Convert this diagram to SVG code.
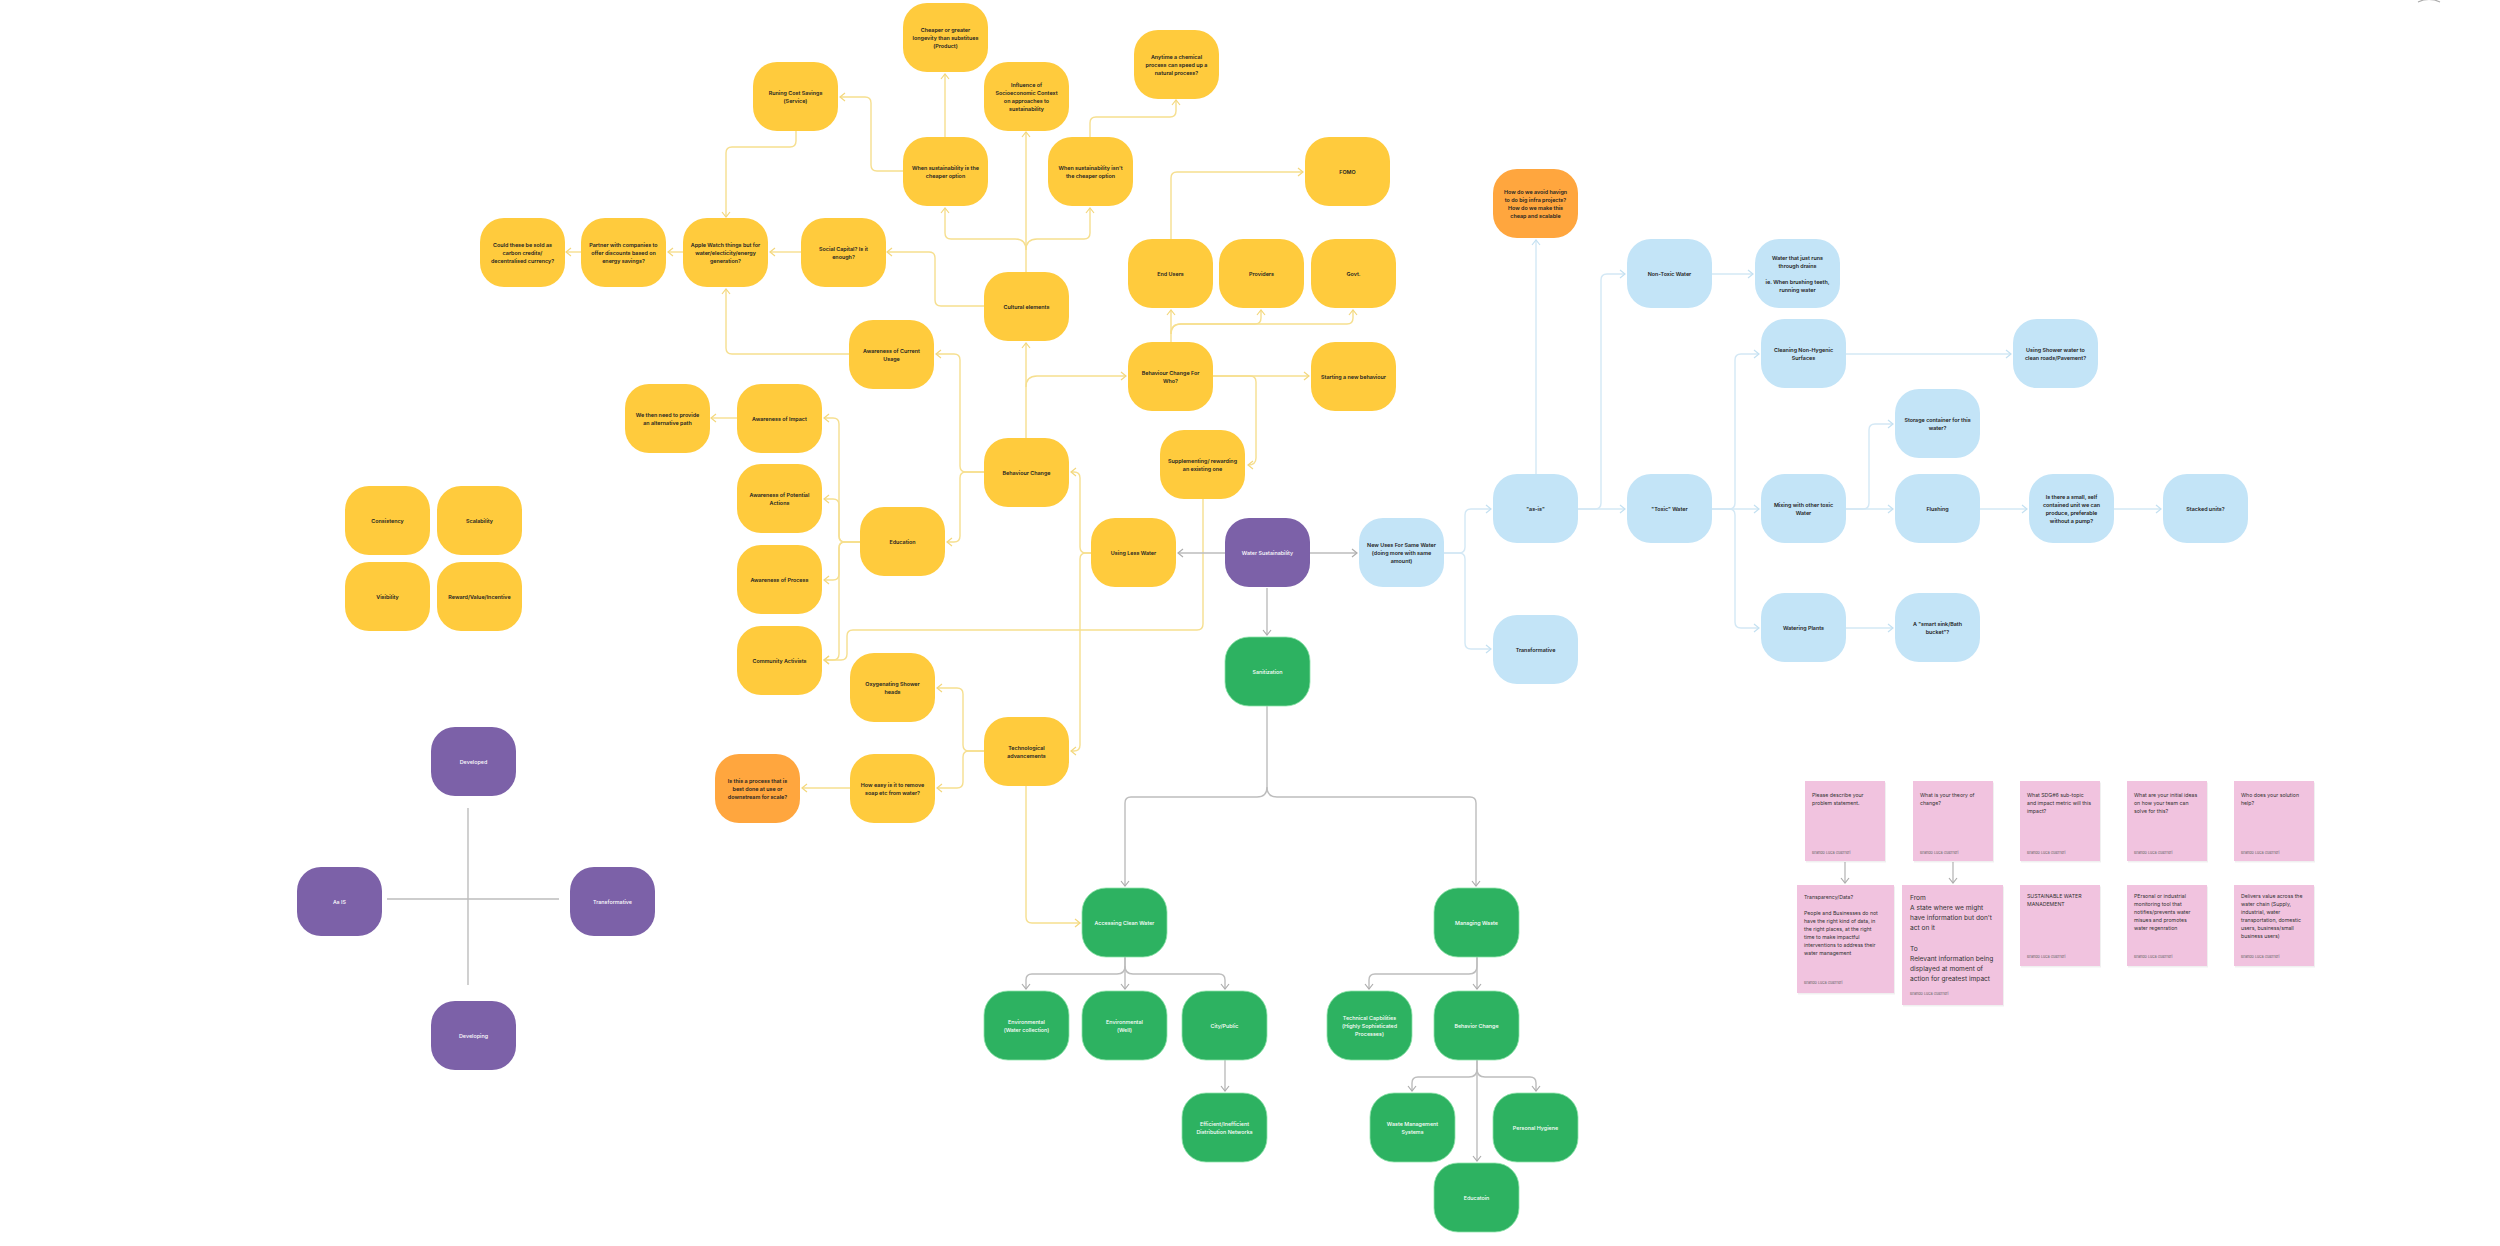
<svg xmlns="http://www.w3.org/2000/svg" width="2500" height="1246" viewBox="0 0 2500 1246">
<style>
.ny{fill:#FFCB3D}
.nb{fill:#C3E4F7}
.ng{fill:#2DB261;stroke:#8EE3A9;stroke-width:0.8}
.np{fill:#7C61A8}
.no{fill:#FFA63E}
.pk{fill:#F1C3DF}
.sh{fill:#000;opacity:0.06}
.t{font-family:Inter,'Noto Sans','Liberation Sans',sans-serif;font-size:5.4px;font-weight:600;fill:#222;text-anchor:middle}
.tw{fill:#fff;font-weight:500}
.pt{font-family:Inter,'Noto Sans','Liberation Sans',sans-serif;font-size:5.2px;font-weight:400;fill:#333}
.pb{font-size:6.6px}
.au{font-family:Inter,'Noto Sans','Liberation Sans',sans-serif;font-size:3.8px;fill:#666}
.cy{fill:none;stroke:#F6DF8F;stroke-width:1.4}
.cg{fill:none;stroke:#BDBDBD;stroke-width:1.4}
.cb{fill:none;stroke:#D3E8F5;stroke-width:1.4}
</style>
<defs>
<marker id="ay" markerWidth="8" markerHeight="10" refX="6" refY="5" orient="auto" markerUnits="userSpaceOnUse"><path d="M1,1 L6,5 L1,9" fill="none" stroke="#F3D77C" stroke-width="1.2"/></marker>
<marker id="ag" markerWidth="8" markerHeight="10" refX="6" refY="5" orient="auto" markerUnits="userSpaceOnUse"><path d="M1,1 L6,5 L1,9" fill="none" stroke="#ADADAD" stroke-width="1.2"/></marker>
<marker id="ab" markerWidth="8" markerHeight="10" refX="6" refY="5" orient="auto" markerUnits="userSpaceOnUse"><path d="M1,1 L6,5 L1,9" fill="none" stroke="#C3E0F1" stroke-width="1.2"/></marker>
</defs>
<rect width="2500" height="1246" fill="#fff"/>
<path d="M2418,2 Q2429,-3 2440,2" fill="none" stroke="#AAA" stroke-width="1.2"/>

<g id="connectors">
<g marker-end="url(#ay)" class="yellow">
<path class="cy" d="M1026,272 V132"/>
<path class="cy" d="M1026,250 Q1026,239 1015,239 H951 Q945,239 945,233 V208"/>
<path class="cy" d="M1026,250 Q1026,239 1037,239 H1084 Q1090,239 1090,233 V208"/>
<path class="cy" d="M984,306 H941 Q935,306 935,300 V258 Q935,252 929,252 H887"/>
<path class="cy" d="M945,137 V74"/>
<path class="cy" d="M903,171 H877 Q871,171 871,165 V103 Q871,97 865,97 H840"/>
<path class="cy" d="M1090,137 V123 Q1090,117 1096,117 H1170 Q1176,117 1176,111 V100"/>
<path class="cy" d="M796,131 V141 Q796,147 790,147 H732 Q726,147 726,153 V217"/>
<path class="cy" d="M801,252 H770"/>
<path class="cy" d="M683,252 H668"/>
<path class="cy" d="M581,252 H566"/>
<path class="cy" d="M849,354 H732 Q726,354 726,348 V289"/>
<path class="cy" d="M984,472 H966 Q960,472 960,466 V360 Q960,354 954,354 H936"/>
<path class="cy" d="M984,472 H966 Q960,472 960,478 V536 Q960,542 954,542 H947"/>
<path class="cy" d="M1026,438 V343"/>
<path class="cy" d="M1026,387 Q1026,376 1037,376 H1126"/>
<path class="cy" d="M860,542 H845 Q839,542 839,536 V424 Q839,418 833,418 H824"/>
<path class="cy" d="M860,542 H845 Q839,542 839,536 V505 Q839,499 833,499 H824"/>
<path class="cy" d="M860,542 H845 Q839,542 839,548 V574 Q839,580 833,580 H824"/>
<path class="cy" d="M860,542 H845 Q839,542 839,548 V654 Q839,660 833,660 H824"/>
<path class="cy" d="M737,418 H711"/>
<path class="cy" d="M1203,499 V624 Q1203,630 1197,630 H853 Q847,630 847,636 V654 Q847,660 841,660 H824"/>
<path class="cy" d="M1171,342 V310"/>
<path class="cy" d="M1171,334 Q1171,324 1181,324 H1255 Q1261,324 1261,318 V310"/>
<path class="cy" d="M1171,334 Q1171,324 1181,324 H1347 Q1353,324 1353,318 V310"/>
<path class="cy" d="M1171,239 V178 Q1171,172 1177,172 H1303"/>
<path class="cy" d="M1213,376 H1309"/>
<path class="cy" d="M1213,376 H1250 Q1256,376 1256,382 V458 Q1256,465 1248,465"/>
<path class="cy" d="M1091,553 H1086 Q1080,553 1080,547 V478 Q1080,472 1074,472 H1071"/>
<path class="cy" d="M1091,553 H1086 Q1080,553 1080,559 V745 Q1080,751 1074,751 H1071"/>
<path class="cy" d="M984,751 H969 Q963,751 963,745 V694 Q963,688 957,688 H937"/>
<path class="cy" d="M984,751 H969 Q963,751 963,757 V782 Q963,788 957,788 H937"/>
<path class="cy" d="M850,788 H802"/>
<path class="cy" d="M1026,786 V917 Q1026,923 1032,923 H1080"/>
</g>
<g marker-end="url(#ag)" class="gray">
<path class="cg" d="M1225,553 H1178"/>
<path class="cg" d="M1310,553 H1357"/>
<path class="cg" d="M1267,588 V635"/>
<path class="cg" d="M1267,706 V787 Q1267,797 1257,797 H1131 Q1125,797 1125,803 V886"/>
<path class="cg" d="M1267,787 Q1267,797 1277,797 H1470 Q1476,797 1476,803 V886"/>
<path class="cg" d="M1125,957 V966 Q1125,974 1117,974 H1032 Q1026,974 1026,980 V989"/>
<path class="cg" d="M1125,957 V989"/>
<path class="cg" d="M1125,966 Q1125,974 1133,974 H1219 Q1225,974 1225,980 V989"/>
<path class="cg" d="M1225,1060 V1091"/>
<path class="cg" d="M1477,957 V966 Q1477,974 1469,974 H1375 Q1369,974 1369,980 V989"/>
<path class="cg" d="M1477,957 V989"/>
<path class="cg" d="M1477,1060 V1069 Q1477,1077 1469,1077 H1418 Q1412,1077 1412,1083 V1091"/>
<path class="cg" d="M1477,1069 Q1477,1077 1485,1077 H1530 Q1536,1077 1536,1083 V1091"/>
<path class="cg" d="M1477,1060 V1161"/>
<path class="cg" d="M1845,862 V883"/>
<path class="cg" d="M1953,862 V883"/>
</g>
<g class="quadrant">
<path class="cg" d="M468,808 V985"/>
<path class="cg" d="M387,899 H559"/>
</g>
<g marker-end="url(#ab)" class="blue">
<path class="cb" d="M1444,553 H1459 Q1465,553 1465,547 V515 Q1465,509 1471,509 H1491"/>
<path class="cb" d="M1444,553 H1459 Q1465,553 1465,559 V643 Q1465,649 1471,649 H1491"/>
<path class="cb" d="M1536,474 V240"/>
<path class="cb" d="M1578,509 H1625"/>
<path class="cb" d="M1578,509 H1595 Q1601,509 1601,503 V280 Q1601,274 1607,274 H1625"/>
<path class="cb" d="M1712,274 H1753"/>
<path class="cb" d="M1712,509 H1729 Q1735,509 1735,503 V360 Q1735,354 1741,354 H1759"/>
<path class="cb" d="M1712,509 H1759"/>
<path class="cb" d="M1712,509 H1729 Q1735,509 1735,515 V622 Q1735,628 1741,628 H1759"/>
<path class="cb" d="M1846,354 H2011"/>
<path class="cb" d="M1846,509 H1893"/>
<path class="cb" d="M1846,509 H1863 Q1869,509 1869,503 V430 Q1869,424 1875,424 H1893"/>
<path class="cb" d="M1980,509 H2027"/>
<path class="cb" d="M2114,509 H2161"/>
<path class="cb" d="M1846,628 H1893"/>
</g>
</g>

<!-- yellow nodes -->
<g id="cheaper"><rect class="ny" x="903" y="3" width="85" height="69" rx="24"/><text class="t"><tspan x="945.5" y="31.5">Cheaper or greater</tspan><tspan x="945.5" y="39.5">longevity than substitues</tspan><tspan x="945.5" y="47.5">(Product)</tspan></text></g>
<g id="runing"><rect class="ny" x="753" y="62" width="85" height="69" rx="24"/><text class="t"><tspan x="795.5" y="94.5">Runing Cost Savings</tspan><tspan x="795.5" y="102.5">(Service)</tspan></text></g>
<g id="influence"><rect class="ny" x="984" y="62" width="85" height="69" rx="24"/><text class="t"><tspan x="1026.5" y="86.5">Influence of</tspan><tspan x="1026.5" y="94.5">Socioeconomic Context</tspan><tspan x="1026.5" y="102.5">on approaches to</tspan><tspan x="1026.5" y="110.5">sustainability</tspan></text></g>
<g id="anytime"><rect class="ny" x="1134" y="30" width="85" height="69" rx="24"/><text class="t"><tspan x="1176.5" y="58.5">Anytime a chemical</tspan><tspan x="1176.5" y="66.5">process can speed up a</tspan><tspan x="1176.5" y="74.5">natural process?</tspan></text></g>
<g id="when-cheaper"><rect class="ny" x="903" y="137" width="85" height="69" rx="24"/><text class="t"><tspan x="945.5" y="169.5">When sustainability is the</tspan><tspan x="945.5" y="177.5">cheaper option</tspan></text></g>
<g id="when-isnt"><rect class="ny" x="1048" y="137" width="85" height="69" rx="24"/><text class="t"><tspan x="1090.5" y="169.5">When sustainability isn't</tspan><tspan x="1090.5" y="177.5">the cheaper option</tspan></text></g>
<g id="fomo"><rect class="ny" x="1305" y="137" width="85" height="69" rx="24"/><text class="t" x="1347.5" y="173.5">FOMO</text></g>
<g id="could"><rect class="ny" x="480" y="218" width="85" height="69" rx="24"/><text class="t"><tspan x="522.5" y="246.5">Could these be sold as</tspan><tspan x="522.5" y="254.5">carbon credits/</tspan><tspan x="522.5" y="262.5">decentralised currency?</tspan></text></g>
<g id="partner"><rect class="ny" x="581" y="218" width="85" height="69" rx="24"/><text class="t"><tspan x="623.5" y="246.5">Partner with companies to</tspan><tspan x="623.5" y="254.5">offer discounts based on</tspan><tspan x="623.5" y="262.5">energy savings?</tspan></text></g>
<g id="apple"><rect class="ny" x="683" y="218" width="85" height="69" rx="24"/><text class="t"><tspan x="725.5" y="246.5">Apple Watch things but for</tspan><tspan x="725.5" y="254.5">water/electicity/energy</tspan><tspan x="725.5" y="262.5">generation?</tspan></text></g>
<g id="social"><rect class="ny" x="801" y="218" width="85" height="69" rx="24"/><text class="t"><tspan x="843.5" y="250.5">Social Capital? Is it</tspan><tspan x="843.5" y="258.5">enough?</tspan></text></g>
<g id="cultural"><rect class="ny" x="984" y="272" width="85" height="69" rx="24"/><text class="t" x="1026.5" y="308.5">Cultural elements</text></g>
<g id="end-users"><rect class="ny" x="1128" y="239" width="85" height="69" rx="24"/><text class="t" x="1170.5" y="275.5">End Users</text></g>
<g id="providers"><rect class="ny" x="1219" y="239" width="85" height="69" rx="24"/><text class="t" x="1261.5" y="275.5">Providers</text></g>
<g id="govt"><rect class="ny" x="1311" y="239" width="85" height="69" rx="24"/><text class="t" x="1353.5" y="275.5">Govt.</text></g>
<g id="aocu"><rect class="ny" x="849" y="320" width="85" height="69" rx="24"/><text class="t"><tspan x="891.5" y="352.5">Awareness of Current</tspan><tspan x="891.5" y="360.5">Usage</tspan></text></g>
<g id="bcfw"><rect class="ny" x="1128" y="342" width="85" height="69" rx="24"/><text class="t"><tspan x="1170.5" y="374.5">Behaviour Change For</tspan><tspan x="1170.5" y="382.5">Who?</tspan></text></g>
<g id="starting"><rect class="ny" x="1311" y="342" width="85" height="69" rx="24"/><text class="t" x="1353.5" y="378.5">Starting a new behaviour</text></g>
<g id="we-then"><rect class="ny" x="625" y="384" width="85" height="69" rx="24"/><text class="t"><tspan x="667.5" y="416.5">We then need to provide</tspan><tspan x="667.5" y="424.5">an alternative path</tspan></text></g>
<g id="aoi"><rect class="ny" x="737" y="384" width="85" height="69" rx="24"/><text class="t" x="779.5" y="420.5">Awareness of Impact</text></g>
<g id="supplementing"><rect class="ny" x="1160" y="430" width="85" height="69" rx="24"/><text class="t"><tspan x="1202.5" y="462.5">Supplementing/ rewarding</tspan><tspan x="1202.5" y="470.5">an existing one</tspan></text></g>
<g id="behaviour-change"><rect class="ny" x="984" y="438" width="85" height="69" rx="24"/><text class="t" x="1026.5" y="474.5">Behaviour Change</text></g>
<g id="aopa"><rect class="ny" x="737" y="464" width="85" height="69" rx="24"/><text class="t"><tspan x="779.5" y="496.5">Awareness of Potential</tspan><tspan x="779.5" y="504.5">Actions</tspan></text></g>
<g id="education"><rect class="ny" x="860" y="507" width="85" height="69" rx="24"/><text class="t" x="902.5" y="543.5">Education</text></g>
<g id="using-less"><rect class="ny" x="1091" y="518" width="85" height="69" rx="24"/><text class="t" x="1133.5" y="554.5">Using Less Water</text></g>
<g id="aop"><rect class="ny" x="737" y="545" width="85" height="69" rx="24"/><text class="t" x="779.5" y="581.5">Awareness of Process</text></g>
<g id="community"><rect class="ny" x="737" y="626" width="85" height="69" rx="24"/><text class="t" x="779.5" y="662.5">Community Activists</text></g>
<g id="oxygenating"><rect class="ny" x="850" y="653" width="85" height="69" rx="24"/><text class="t"><tspan x="892.5" y="685.5">Oxygenating Shower</tspan><tspan x="892.5" y="693.5">heads</tspan></text></g>
<g id="tech"><rect class="ny" x="984" y="717" width="85" height="69" rx="24"/><text class="t"><tspan x="1026.5" y="749.5">Technological</tspan><tspan x="1026.5" y="757.5">advancements</tspan></text></g>
<g id="how-easy"><rect class="ny" x="850" y="754" width="85" height="69" rx="24"/><text class="t"><tspan x="892.5" y="786.5">How easy is it to remove</tspan><tspan x="892.5" y="794.5">soap etc from water?</tspan></text></g>
<g id="is-this"><rect class="no" x="715" y="754" width="85" height="69" rx="24"/><text class="t"><tspan x="757.5" y="782.5">Is this a process that is</tspan><tspan x="757.5" y="790.5">best done at use or</tspan><tspan x="757.5" y="798.5">downstream for scale?</tspan></text></g>
<g id="consistency"><rect class="ny" x="345" y="486" width="85" height="69" rx="24"/><text class="t" x="387.5" y="522.5">Consistency</text></g>
<g id="scalability"><rect class="ny" x="437" y="486" width="85" height="69" rx="24"/><text class="t" x="479.5" y="522.5">Scalability</text></g>
<g id="visibility"><rect class="ny" x="345" y="562" width="85" height="69" rx="24"/><text class="t" x="387.5" y="598.5">Visibility</text></g>
<g id="reward"><rect class="ny" x="437" y="562" width="85" height="69" rx="24"/><text class="t" x="479.5" y="598.5">Reward/Value/Incentive</text></g>

<!-- purple -->
<g id="water-sustainability"><rect class="np" x="1225" y="518" width="85" height="69" rx="24"/><text class="t tw" x="1267.5" y="554.5">Water Sustainability</text></g>
<g id="developed"><rect class="np" x="431" y="727" width="85" height="69" rx="24"/><text class="t tw" x="473.5" y="763.5">Developed</text></g>
<g id="as-is-p"><rect class="np" x="297" y="867" width="85" height="69" rx="24"/><text class="t tw" x="339.5" y="903.5">As IS</text></g>
<g id="transformative-p"><rect class="np" x="570" y="867" width="85" height="69" rx="24"/><text class="t tw" x="612.5" y="903.5">Transformative</text></g>
<g id="developing"><rect class="np" x="431" y="1001" width="85" height="69" rx="24"/><text class="t tw" x="473.5" y="1037.5">Developing</text></g>

<!-- green -->
<g id="sanitization"><rect class="ng" x="1225" y="637" width="85" height="69" rx="24"/><text class="t tw" x="1267.5" y="673.5">Sanitization</text></g>
<g id="accessing"><rect class="ng" x="1082" y="888" width="85" height="69" rx="24"/><text class="t tw" x="1124.5" y="924.5">Accessing Clean Water</text></g>
<g id="managing"><rect class="ng" x="1434" y="888" width="85" height="69" rx="24"/><text class="t tw" x="1476.5" y="924.5">Managing Waste</text></g>
<g id="env-water"><rect class="ng" x="984" y="991" width="85" height="69" rx="24"/><text class="t tw"><tspan x="1026.5" y="1023.5">Environmental</tspan><tspan x="1026.5" y="1031.5">(Water collection)</tspan></text></g>
<g id="env-well"><rect class="ng" x="1082" y="991" width="85" height="69" rx="24"/><text class="t tw"><tspan x="1124.5" y="1023.5">Environmental</tspan><tspan x="1124.5" y="1031.5">(Well)</tspan></text></g>
<g id="city"><rect class="ng" x="1182" y="991" width="85" height="69" rx="24"/><text class="t tw" x="1224.5" y="1027.5">City/Public</text></g>
<g id="efficient"><rect class="ng" x="1182" y="1093" width="85" height="69" rx="24"/><text class="t tw"><tspan x="1224.5" y="1125.5">Efficient/Inefficient</tspan><tspan x="1224.5" y="1133.5">Distribution Networks</tspan></text></g>
<g id="tech-cap"><rect class="ng" x="1327" y="991" width="85" height="69" rx="24"/><text class="t tw"><tspan x="1369.5" y="1019.5">Technical Capbilities</tspan><tspan x="1369.5" y="1027.5">(Highly Sophisticated</tspan><tspan x="1369.5" y="1035.5">Processes)</tspan></text></g>
<g id="behavior-change"><rect class="ng" x="1434" y="991" width="85" height="69" rx="24"/><text class="t tw" x="1476.5" y="1027.5">Behavior Change</text></g>
<g id="wms"><rect class="ng" x="1370" y="1093" width="85" height="69" rx="24"/><text class="t tw"><tspan x="1412.5" y="1125.5">Waste Management</tspan><tspan x="1412.5" y="1133.5">Systems</tspan></text></g>
<g id="hygiene"><rect class="ng" x="1493" y="1093" width="85" height="69" rx="24"/><text class="t tw" x="1535.5" y="1129.5">Personal Hygiene</text></g>
<g id="educatoin"><rect class="ng" x="1434" y="1163" width="85" height="69" rx="24"/><text class="t tw" x="1476.5" y="1199.5">Educatoin</text></g>

<!-- blue -->
<g id="new-uses"><rect class="nb" x="1359" y="518" width="85" height="69" rx="24"/><text class="t"><tspan x="1401.5" y="546.5">New Uses For Same Water</tspan><tspan x="1401.5" y="554.5">(doing more with same</tspan><tspan x="1401.5" y="562.5">amount)</tspan></text></g>
<g id="as-is"><rect class="nb" x="1493" y="474" width="85" height="69" rx="24"/><text class="t" x="1535.5" y="510.5">&quot;as-is&quot;</text></g>
<g id="transformative-b"><rect class="nb" x="1493" y="615" width="85" height="69" rx="24"/><text class="t" x="1535.5" y="651.5">Transformative</text></g>
<g id="how-avoid"><rect class="no" x="1493" y="169" width="85" height="69" rx="24"/><text class="t"><tspan x="1535.5" y="193.5">How do we avoid havign</tspan><tspan x="1535.5" y="201.5">to do big infra projects?</tspan><tspan x="1535.5" y="209.5">How do we make this</tspan><tspan x="1535.5" y="217.5">cheap and scalable</tspan></text></g>
<g id="non-toxic"><rect class="nb" x="1627" y="239" width="85" height="69" rx="24"/><text class="t" x="1669.5" y="275.5">Non-Toxic Water</text></g>
<g id="runs"><rect class="nb" x="1755" y="239" width="85" height="69" rx="24"/><text class="t"><tspan x="1797.5" y="259.5">Water that just runs</tspan><tspan x="1797.5" y="267.5">through drains</tspan><tspan x="1797.5" y="283.5">ie. When brushing teeth,</tspan><tspan x="1797.5" y="291.5">running water</tspan></text></g>
<g id="cleaning"><rect class="nb" x="1761" y="319" width="85" height="69" rx="24"/><text class="t"><tspan x="1803.5" y="351.5">Cleaning Non-Hygenic</tspan><tspan x="1803.5" y="359.5">Surfaces</tspan></text></g>
<g id="shower"><rect class="nb" x="2013" y="319" width="85" height="69" rx="24"/><text class="t"><tspan x="2055.5" y="351.5">Using Shower water to</tspan><tspan x="2055.5" y="359.5">clean roads/Pavement?</tspan></text></g>
<g id="storage"><rect class="nb" x="1895" y="389" width="85" height="69" rx="24"/><text class="t"><tspan x="1937.5" y="421.5">Storage container for this</tspan><tspan x="1937.5" y="429.5">water?</tspan></text></g>
<g id="toxic"><rect class="nb" x="1627" y="474" width="85" height="69" rx="24"/><text class="t" x="1669.5" y="510.5">&quot;Toxic&quot; Water</text></g>
<g id="mixing"><rect class="nb" x="1761" y="474" width="85" height="69" rx="24"/><text class="t"><tspan x="1803.5" y="506.5">Mixing with other toxic</tspan><tspan x="1803.5" y="514.5">Water</tspan></text></g>
<g id="flushing"><rect class="nb" x="1895" y="474" width="85" height="69" rx="24"/><text class="t" x="1937.5" y="510.5">Flushing</text></g>
<g id="is-there"><rect class="nb" x="2029" y="474" width="85" height="69" rx="24"/><text class="t"><tspan x="2071.5" y="498.5">Is there a small, self</tspan><tspan x="2071.5" y="506.5">contained unit we can</tspan><tspan x="2071.5" y="514.5">produce, preferable</tspan><tspan x="2071.5" y="522.5">without a pump?</tspan></text></g>
<g id="stacked"><rect class="nb" x="2163" y="474" width="85" height="69" rx="24"/><text class="t" x="2205.5" y="510.5">Stacked units?</text></g>
<g id="watering"><rect class="nb" x="1761" y="593" width="85" height="69" rx="24"/><text class="t" x="1803.5" y="629.5">Watering Plants</text></g>
<g id="smart-sink"><rect class="nb" x="1895" y="593" width="85" height="69" rx="24"/><text class="t"><tspan x="1937.5" y="625.5">A &quot;smart sink/Bath</tspan><tspan x="1937.5" y="633.5">bucket&quot;?</tspan></text></g>

<!-- pink notes -->
<g id="note1"><rect class="sh" x="1806" y="782.5" width="80" height="80"/><rect class="pk" x="1805" y="781" width="80" height="80"/><text class="pt"><tspan x="1812" y="797">Please describe your</tspan><tspan x="1812" y="805">problem statement.</tspan></text><text class="au" x="1812" y="854">Brando Luca Guerreri</text></g>
<g id="note2"><rect class="sh" x="1914" y="782.5" width="80" height="80"/><rect class="pk" x="1913" y="781" width="80" height="80"/><text class="pt"><tspan x="1920" y="797">What is your theory of</tspan><tspan x="1920" y="805">change?</tspan></text><text class="au" x="1920" y="854">Brando Luca Guerreri</text></g>
<g id="note3"><rect class="sh" x="2021" y="782.5" width="80" height="80"/><rect class="pk" x="2020" y="781" width="80" height="80"/><text class="pt"><tspan x="2027" y="797">What SDG#6 sub-topic</tspan><tspan x="2027" y="805">and impact metric will this</tspan><tspan x="2027" y="813">impact?</tspan></text><text class="au" x="2027" y="854">Brando Luca Guerreri</text></g>
<g id="note4"><rect class="sh" x="2128" y="782.5" width="80" height="80"/><rect class="pk" x="2127" y="781" width="80" height="80"/><text class="pt"><tspan x="2134" y="797">What are your initial ideas</tspan><tspan x="2134" y="805">on how your team can</tspan><tspan x="2134" y="813">solve for this?</tspan></text><text class="au" x="2134" y="854">Brando Luca Guerreri</text></g>
<g id="note5"><rect class="sh" x="2235" y="782.5" width="80" height="80"/><rect class="pk" x="2234" y="781" width="80" height="80"/><text class="pt"><tspan x="2241" y="797">Who does your solution</tspan><tspan x="2241" y="805">help?</tspan></text><text class="au" x="2241" y="854">Brando Luca Guerreri</text></g>
<g id="note1b"><rect class="sh" x="1798" y="886.5" width="97" height="108"/><rect class="pk" x="1797" y="885" width="97" height="108"/><text class="pt"><tspan x="1804" y="899">Transparency/Data?</tspan><tspan x="1804" y="915">People and Businesses do not</tspan><tspan x="1804" y="923">have the right kind of data, in</tspan><tspan x="1804" y="931">the right places, at the right</tspan><tspan x="1804" y="939">time to make impactful</tspan><tspan x="1804" y="947">interventions to address their</tspan><tspan x="1804" y="955">water management</tspan></text><text class="au" x="1804" y="984">Brando Luca Guerreri</text></g>
<g id="note2b"><rect class="sh" x="1903" y="886.5" width="101" height="120"/><rect class="pk" x="1902" y="885" width="101" height="120"/><text class="pt pb"><tspan x="1910" y="900">From</tspan><tspan x="1910" y="910">A state where we might</tspan><tspan x="1910" y="920">have information but don't</tspan><tspan x="1910" y="930">act on it</tspan><tspan x="1910" y="951">To</tspan><tspan x="1910" y="961">Relevant information being</tspan><tspan x="1910" y="971">displayed at moment of</tspan><tspan x="1910" y="981">action for greatest impact</tspan></text><text class="au" x="1910" y="995">Brando Luca Guerreri</text></g>
<g id="note3b"><rect class="sh" x="2021" y="886.5" width="80" height="81"/><rect class="pk" x="2020" y="885" width="80" height="81"/><text class="pt"><tspan x="2027" y="898">SUSTAINABLE WATER</tspan><tspan x="2027" y="906">MANADEMENT</tspan></text><text class="au" x="2027" y="958">Brando Luca Guerreri</text></g>
<g id="note4b"><rect class="sh" x="2128" y="886.5" width="80" height="81"/><rect class="pk" x="2127" y="885" width="80" height="81"/><text class="pt"><tspan x="2134" y="898">PErsonal or industrial</tspan><tspan x="2134" y="906">monitoring tool that</tspan><tspan x="2134" y="914">notifies/prevents water</tspan><tspan x="2134" y="922">misues and promotes</tspan><tspan x="2134" y="930">water regenration</tspan></text><text class="au" x="2134" y="958">Brando Luca Guerreri</text></g>
<g id="note5b"><rect class="sh" x="2235" y="886.5" width="80" height="81"/><rect class="pk" x="2234" y="885" width="80" height="81"/><text class="pt"><tspan x="2241" y="898">Delivers value across the</tspan><tspan x="2241" y="906">water chain (Supply,</tspan><tspan x="2241" y="914">industrial, water</tspan><tspan x="2241" y="922">transportation, domestic</tspan><tspan x="2241" y="930">users, business/small</tspan><tspan x="2241" y="938">business users)</tspan></text><text class="au" x="2241" y="958">Brando Luca Guerreri</text></g>
</svg>
